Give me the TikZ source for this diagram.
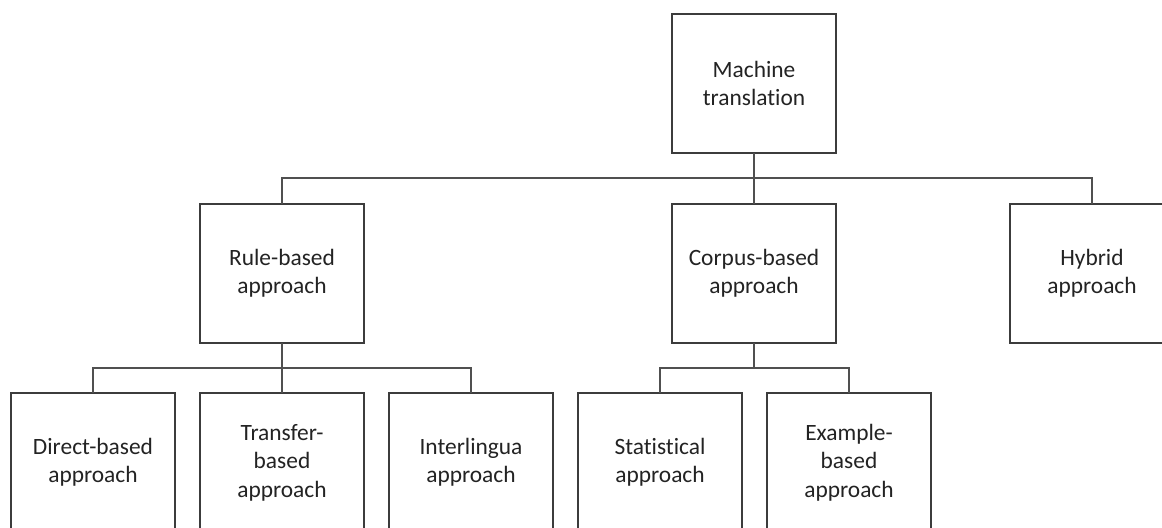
\documentclass[tikz,border=0pt]{standalone}
\usepackage{fontspec}
\setmainfont{Carlito}[Ligatures={NoCommon}]
\usepackage{xcolor}
\usepackage{tikz}
\definecolor{MTBorder}{RGB}{60, 60, 60}
\definecolor{MTLine}{RGB}{80, 80, 80}
\definecolor{MTText}{RGB}{35, 35, 35}

\begin{document}
\begin{tikzpicture}[x=0.5pt,y=0.5pt,
  mtbox/.style={draw=MTBorder, line width=1pt, fill=white,
    minimum width=82pt, minimum height=69.5pt, inner sep=0pt, outer sep=0pt,
    align=center, text=MTText, font=\fontsize{11.7}{14.2}\selectfont},
  mtlink/.style={draw=MTLine, line width=0.6pt}]
  \clip (0,0) rectangle (1162,527);

  % Top
  \node[mtbox] (mt) at (754,443.5) {Machine\\translation};

  % Approaches
  \node[mtbox] (rule) at (282,254) {Rule-based\\approach};
  \node[mtbox] (corpus) at (754,254) {Corpus-based\\approach};
  \node[mtbox] (hybrid) at (1092,254) {Hybrid\\approach};

  % Rule-based family
  \node[mtbox] (direct) at (93,64.5) {Direct-based\\approach};
  \node[mtbox] (transfer) at (282,64.5) {Transfer-\\based\\approach};
  \node[mtbox] (inter) at (471,64.5) {Interlingua\\approach};

  % Corpus-based family
  \node[mtbox] (stat) at (660,64.5) {Statistical\\approach};
  \node[mtbox] (example) at (849,64.5) {Example-\\based\\approach};

  % Connectors
  \coordinate (bus1) at (754,349);
  \coordinate (bus2) at (282,159);
  \coordinate (bus3) at (754,159);
  \draw[mtlink] (mt.south) -- (corpus.north);
  \draw[mtlink] (rule.north) |- (bus1) -| (hybrid.north);
  \draw[mtlink] (rule.south) -- (transfer.north);
  \draw[mtlink] (direct.north) |- (bus2) -| (inter.north);
  \draw[mtlink] (corpus.south) -- (bus3);
  \draw[mtlink] (stat.north) |- (bus3) -| (example.north);
\end{tikzpicture}
\end{document}
